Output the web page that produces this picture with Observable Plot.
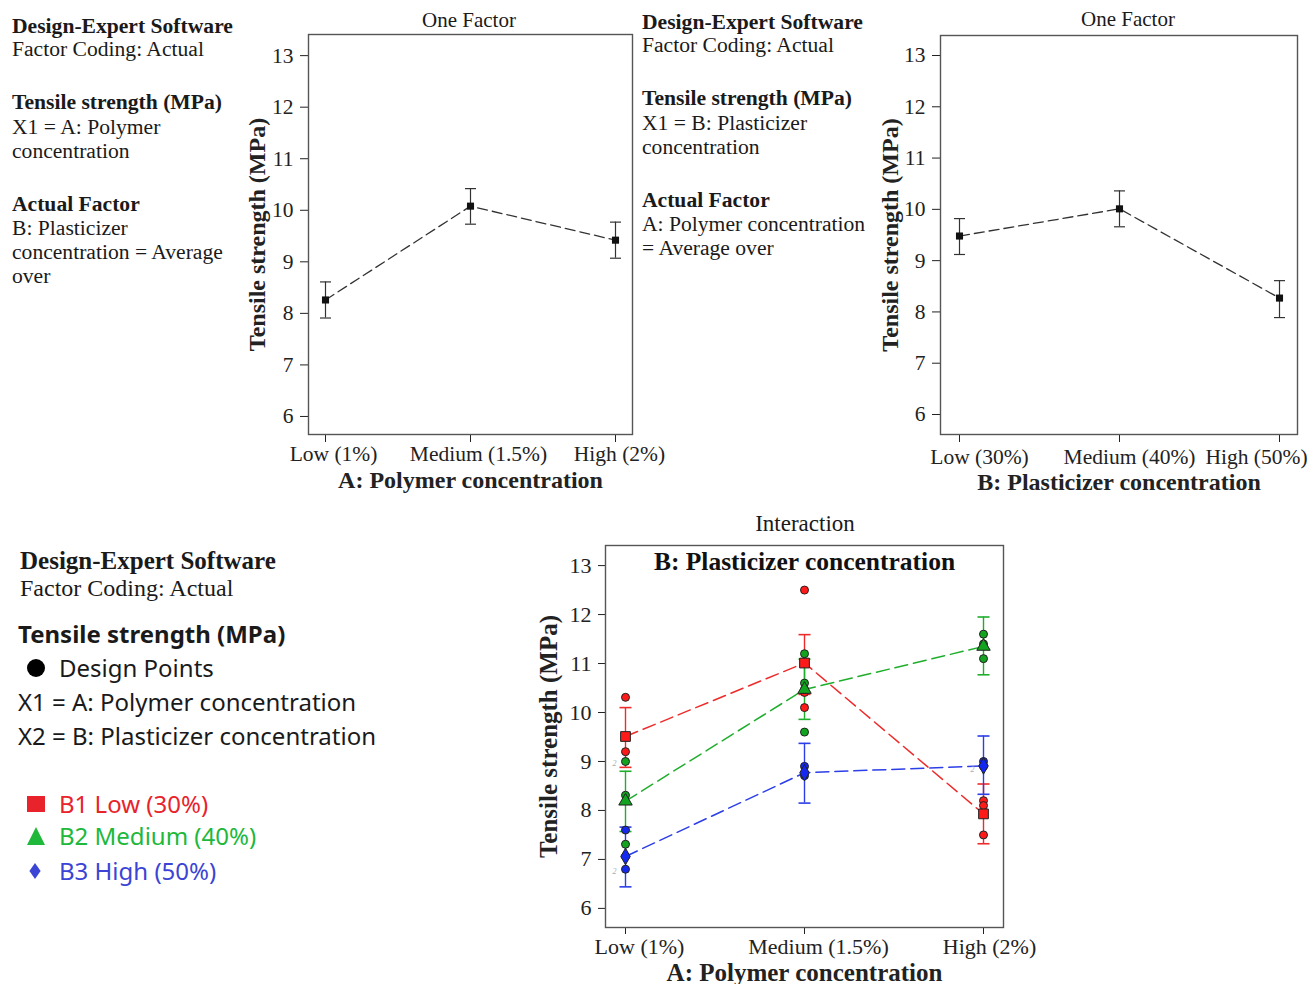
<!DOCTYPE html>
<html><head><meta charset="utf-8">
<script src="https://cdn.jsdelivr.net/npm/d3@7"></script>
<script src="https://cdn.jsdelivr.net/npm/@observablehq/plot@0.6"></script>
<style>
body{margin:0;background:#fff;}
#wrap{position:relative;width:1309px;height:984px;overflow:hidden;background:#fff;}
.t{position:absolute;white-space:nowrap;line-height:1;color:#1a1a1a;}
.serif{font-family:"Liberation Serif",serif;}
.sans{font-family:"Noto Sans",sans-serif;}
.b{font-weight:bold;}
.panel{position:absolute;}
.panel svg{overflow:visible;}
.panel g[aria-label="x-axis label"] text,.panel g[aria-label="y-axis label"] text{font-weight:bold;font-size:24px;}
.p3 g[aria-label="x-axis label"] text,.p3 g[aria-label="y-axis label"] text{font-size:25px;}
</style></head><body><div id="wrap"></div>
<script>
// ---------- data ----------
const polymerLevels = ["Low (1%)", "Medium (1.5%)", "High (2%)"];
const plasticizerLevels = ["Low (30%)", "Medium (40%)", "High (50%)"];
const yTicks = [6, 7, 8, 9, 10, 11, 12, 13];

// One factor: A (polymer)
const polyMean = [8.26, 10.08, 9.42];
const polyLow  = [7.91, 9.73, 9.07];
const polyHigh = [8.61, 10.42, 9.77];
// One factor: B (plasticizer)
const plastMean = [9.48, 10.01, 8.27];
const plastLow  = [9.12, 9.66, 7.89];
const plastHigh = [9.82, 10.36, 8.61];

// Interaction
const seriesNames = ["B1 Low (30%)", "B2 Medium (40%)", "B3 High (50%)"];
const b1Mean = [9.51, 11.01, 7.93];
const b1Low  = [8.88, 10.37, 7.32];
const b1High = [10.10, 11.59, 8.54];
const b2Mean = [8.19, 10.47, 11.35];
const b2Low  = [7.57, 9.86, 10.77];
const b2High = [8.80, 11.09, 11.95];
const b3Mean = [7.06, 8.77, 8.91];
const b3Low  = [6.44, 8.15, 8.33];
const b3High = [7.66, 9.37, 9.52];
const b1Points = [[10.31, 9.51, 9.20], [12.50, 11.01, 10.41, 10.10], [8.20, 8.10, 7.93, 7.50]];
const b2Points = [[9.00, 8.31, 7.31], [11.20, 10.60, 10.47, 9.60], [11.60, 11.40, 11.10]];
const b3Points = [[7.60, 7.06, 6.80], [8.90, 8.71], [9.00, 8.90]];
const repLevel = ["Low (1%)", "Low (1%)", "High (2%)"];
const repValue = [9.00, 6.80, 8.88];
const repCount = ["2", "2", "2"];

const seriesColors = ["#ee2b2b", "#1fae2c", "#2c3ee8"];
const pointColors = ["#ff1a1a", "#12a31f", "#1428f0"];
const legendColors = ["#e8232b", "#20b83a", "#3b44d4"];
const seriesSymbols = ["square", "triangle", "diamond"];

// ---------- helpers ----------
const wrap = document.getElementById("wrap");
function line(text, x, yc, size, cls, color, anchor) {
  const d = document.createElement("div");
  d.className = "t " + cls;
  d.textContent = text;
  d.style.fontSize = size + "px";
  d.style.top = (yc - 0.52 * size) + "px";
  d.style.left = x + "px";
  if (anchor === "middle") d.style.transform = "translateX(-50%)";
  if (color) d.style.color = color;
  wrap.appendChild(d);
  return d;
}
function symbolIcon(kind, color, x, yc, s) {
  const ns = "http://www.w3.org/2000/svg";
  const svg = document.createElementNS(ns, "svg");
  svg.setAttribute("width", s); svg.setAttribute("height", s);
  svg.style.position = "absolute"; svg.style.left = x + "px"; svg.style.top = (yc - s / 2) + "px";
  let el;
  if (kind === "circle") { el = document.createElementNS(ns, "circle"); el.setAttribute("cx", s/2); el.setAttribute("cy", s/2); el.setAttribute("r", s/2); }
  else if (kind === "square") { el = document.createElementNS(ns, "rect"); el.setAttribute("x", 0); el.setAttribute("y", 1); el.setAttribute("width", s); el.setAttribute("height", s - 2); }
  else if (kind === "triangle") { el = document.createElementNS(ns, "polygon"); el.setAttribute("points", `${s/2},0 ${s},${s} 0,${s}`); }
  else { el = document.createElementNS(ns, "polygon"); el.setAttribute("points", `${s/2},0 ${s*0.85},${s/2} ${s/2},${s} ${s*0.15},${s/2}`); }
  el.setAttribute("fill", color);
  svg.appendChild(el);
  wrap.appendChild(svg);
}
const capSymbol = {draw(ctx, size) { const r = Math.sqrt(size / Math.PI); ctx.moveTo(-r, 0); ctx.lineTo(r, 0); }};

function place(node, left, top, cls) {
  const d = document.createElement("div");
  d.className = "panel " + (cls || "");
  d.style.left = left + "px"; d.style.top = top + "px";
  d.appendChild(node);
  wrap.appendChild(d);
}
// x axis: tick lines + label, and tick texts nudged individually like the original
function xAxisMarks(levels, label, labelOffset, tickSize, textOffset, shifts) {
  return [
    Plot.axisX({tickSize, tickFormat: () => "", label, labelAnchor: "center", labelOffset}),
    ...levels.map((lv, i) => Plot.axisX([lv], {tickSize: 0, tickPadding: textOffset, dx: shifts[i], label: null}))
  ];
}

// ---------- text blocks ----------
const S = "serif", SB = "serif b";
[["Design-Expert Software", SB, 27], ["Factor Coding: Actual", S, 50], ["Tensile strength (MPa)", SB, 103],
 ["X1 = A: Polymer", S, 128], ["concentration", S, 152], ["Actual Factor", SB, 205], ["B: Plasticizer", S, 229],
 ["concentration = Average", S, 253], ["over", S, 277]].forEach(([t, c, y]) => line(t, 12, y, 21.6, c));
[["Design-Expert Software", SB, 23], ["Factor Coding: Actual", S, 46], ["Tensile strength (MPa)", SB, 99],
 ["X1 = B: Plasticizer", S, 124], ["concentration", S, 148], ["Actual Factor", SB, 201], ["A: Polymer concentration", S, 225],
 ["= Average over", S, 249]].forEach(([t, c, y]) => line(t, 642, y, 21.6, c));

line("One Factor", 469, 21, 21, S, null, "middle");
line("One Factor", 1128, 20, 21, S, null, "middle");
line("Interaction", 805, 524, 23, S, null, "middle");

line("Design-Expert Software", 20, 561, 25, SB);
line("Factor Coding: Actual", 20, 588, 24, S);
line("Tensile strength (MPa)", 18, 634, 24, "sans b");
symbolIcon("circle", "#000", 27, 668, 18);
line("Design Points", 59, 668, 24, "sans");
line("X1 = A: Polymer concentration", 18, 702, 24, "sans");
line("X2 = B: Plasticizer concentration", 18, 736, 24, "sans");
const legendY = [804, 836, 871];
seriesNames.forEach((n, i) => {
  symbolIcon(seriesSymbols[i], legendColors[i], 27, legendY[i], i === 2 ? 16 : 18);
  line(n, 59, legendY[i], 24, "sans", legendColors[i]);
});

// ---------- one factor charts ----------
function oneFactor(levels, mean, lo, hi, cfg) {
  const rows = levels.map((lv, i) => ({level: lv, mean: mean[i], lo: lo[i], hi: hi[i]}));
  return Plot.plot({
    width: cfg.width, height: cfg.height,
    marginLeft: cfg.ml, marginRight: cfg.mr, marginTop: cfg.mt, marginBottom: cfg.mb,
    style: {fontFamily: "Liberation Serif", fontSize: "21.5px", color: "#222", background: "transparent", overflow: "visible"},
    x: {type: "point", domain: levels, padding: cfg.pad},
    y: {domain: cfg.ydom, ticks: yTicks, tickSize: 8, tickPadding: 7,
        label: "Tensile strength (MPa)", labelAnchor: "center", labelArrow: "none", labelOffset: cfg.ylo},
    marks: [
      ...xAxisMarks(levels, cfg.xlabel, cfg.xlo, 8, cfg.xtp, cfg.shifts),
      Plot.frame({stroke: "#555", strokeWidth: 1.4}),
      Plot.ruleX(rows, {x: "level", y1: "lo", y2: "hi", stroke: "#333", strokeWidth: 1.2}),
      Plot.dot(rows, {x: "level", y: "lo", symbol: capSymbol, r: 5.5, stroke: "#333", strokeWidth: 1.2}),
      Plot.dot(rows, {x: "level", y: "hi", symbol: capSymbol, r: 5.5, stroke: "#333", strokeWidth: 1.2}),
      Plot.line(rows, {x: "level", y: "mean", stroke: "#333", strokeWidth: 1.3, strokeDasharray: "10,5"}),
      Plot.dot(rows, {x: "level", y: "mean", symbol: "square", r: 4, fill: "#111", stroke: "none"})
    ]
  });
}
place(oneFactor(polymerLevels, polyMean, polyLow, polyHigh,
  {width: 440, height: 500, ml: 68, mr: 48, mt: 34, mb: 66, pad: 0.11, ydom: [5.65, 13.41],
   xlabel: "A: Polymer concentration", xlo: 53, ylo: 61, xtp: 11, shifts: [8, 8, 4]}), 240, 0);
place(oneFactor(plasticizerLevels, plastMean, plastLow, plastHigh,
  {width: 439, height: 500, ml: 70, mr: 12, mt: 35, mb: 66, pad: 0.109, ydom: [5.61, 13.39],
   xlabel: "B: Plasticizer concentration", xlo: 55, ylo: 60, xtp: 14, shifts: [20, 10, -23]}), 870, 0);

// ---------- interaction chart ----------
const means = [b1Mean, b2Mean, b3Mean], lows = [b1Low, b2Low, b3Low], highs = [b1High, b2High, b3High];
const pts = [b1Points, b2Points, b3Points];
const interMarks = [
  ...xAxisMarks(polymerLevels, "A: Polymer concentration", 53, 7, 11, [14, 14, 6]),
  Plot.frame({stroke: "#555", strokeWidth: 1.4})
];
seriesNames.forEach((name, s) => {
  const rows = polymerLevels.map((lv, i) => ({series: name, level: lv, mean: means[s][i], lo: lows[s][i], hi: highs[s][i]}));
  interMarks.push(
    Plot.ruleX(rows, {x: "level", y1: "lo", y2: "hi", stroke: seriesColors[s], strokeWidth: 1.4}),
    Plot.dot(rows, {x: "level", y: "lo", symbol: capSymbol, r: 6, stroke: seriesColors[s], strokeWidth: 1.6}),
    Plot.dot(rows, {x: "level", y: "hi", symbol: capSymbol, r: 6, stroke: seriesColors[s], strokeWidth: 1.6}),
    Plot.line(rows, {x: "level", y: "mean", stroke: seriesColors[s], strokeWidth: 1.5, strokeDasharray: "13,6"})
  );
});
seriesNames.forEach((name, s) => {
  const prow = polymerLevels.flatMap((lv, i) => pts[s][i].map(v => ({level: lv, value: v})));
  interMarks.push(Plot.dot(prow, {x: "level", y: "value", r: 4, fill: pointColors[s], stroke: "#222", strokeWidth: 1}));
});
seriesNames.forEach((name, s) => {
  const rows = polymerLevels.map((lv, i) => ({level: lv, mean: means[s][i]}));
  interMarks.push(Plot.dot(rows, {x: "level", y: "mean", symbol: seriesSymbols[s], r: s === 0 ? 5.5 : 5, fill: pointColors[s], stroke: "#222", strokeWidth: 1}));
});
const reps = repLevel.map((lv, i) => ({level: lv, value: repValue[i], n: repCount[i]}));
interMarks.push(Plot.text(reps, {x: "level", y: "value", text: "n", dx: -11, dy: 2, fill: "#aaa", fontSize: 8, fontStyle: "italic"}));
interMarks.push(Plot.text(["B: Plasticizer concentration"], {frameAnchor: "top", lineAnchor: "middle", dy: 16, fontWeight: "bold", fontSize: 25.5, fill: "#111"}));

const inter = Plot.plot({
  width: 500, height: 484, marginLeft: 75, marginRight: 27, marginTop: 45, marginBottom: 57,
  style: {fontFamily: "Liberation Serif", fontSize: "22px", color: "#222", background: "transparent", overflow: "visible"},
  x: {type: "point", domain: polymerLevels, padding: 0.106},
  y: {domain: [5.61, 13.41], ticks: yTicks, tickSize: 7, tickPadding: 7,
      label: "Tensile strength (MPa)", labelAnchor: "center", labelArrow: "none", labelOffset: 66},
  marks: interMarks
});
place(inter, 530, 500, "p3");
</script></body></html>
